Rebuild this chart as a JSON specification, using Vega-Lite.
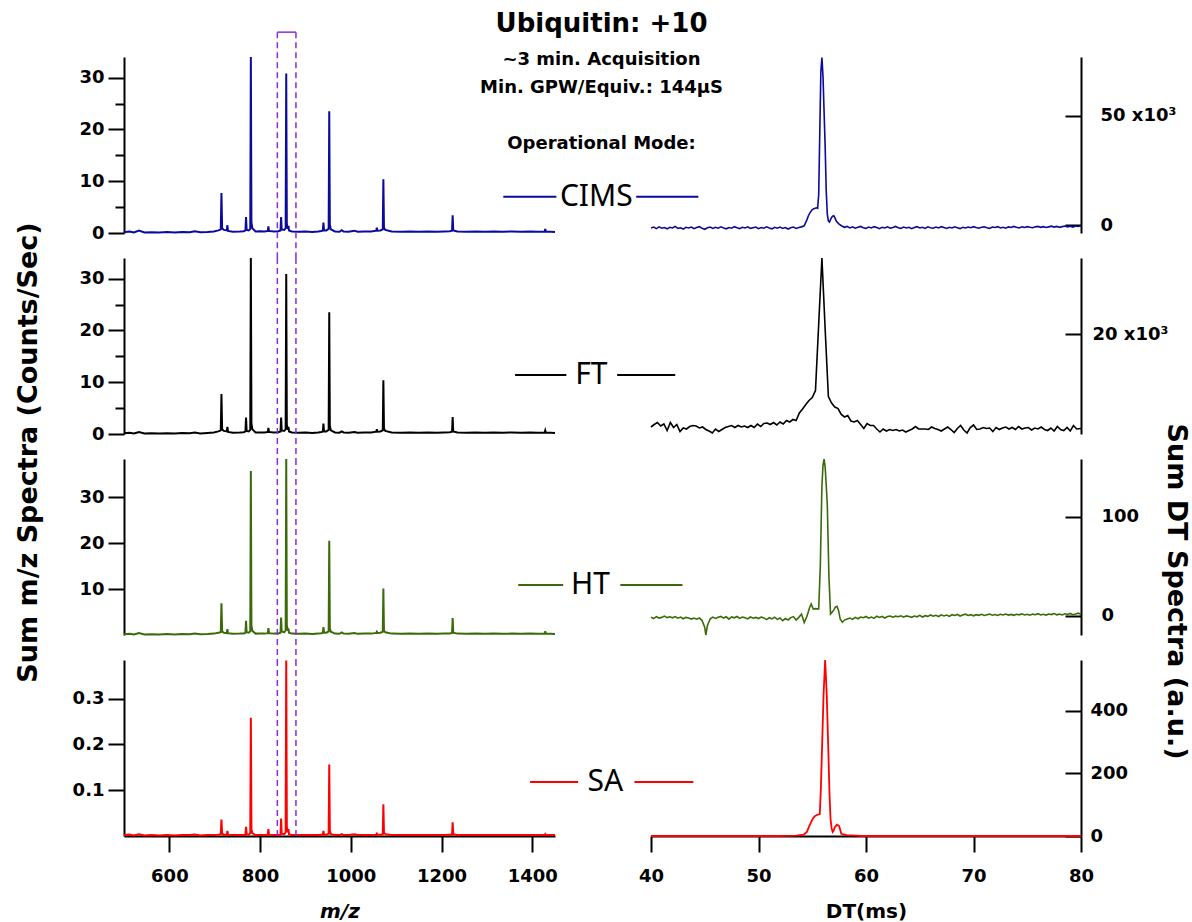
{
"$schema":"https://vega.github.io/schema/vega-lite/v6.json",
"padding":{"left":13,"top":11,"right":5,"bottom":5},
"bounds":"flush",
"columns":2,
"spacing":{"row":25,"column":96},
"title":{"text":"Ubiquitin: +10","subtitle":["~3 min. Acquisition","Min. GPW/Equiv.: 144μS","\u2800","Operational Mode:"],"anchor":"middle","fontSize":26,"font":"DejaVu Sans","fontWeight":"bold","color":"black","subtitleFont":"DejaVu Sans","subtitleFontSize":18,"subtitleFontWeight":"bold","subtitleColor":"black","subtitlePadding":14,"subtitleLineHeight":28,"offset":-122},
"config":{
 "view":{"stroke":null},
 "font":"DejaVu Sans",
 "axis":{"domainColor":"black","domainWidth":2,"tickColor":"black","tickWidth":2,"labelFont":"DejaVu Sans","labelFontWeight":"bold","labelFontSize":18,"labelColor":"black","grid":false,"labelFlush":false,"labelOverlap":false,"titleFont":"DejaVu Sans","titleFontWeight":"bold","titleColor":"black","titleFontSize":27}
},
"datasets":{
 "win":[{"lo":838,"hi":879}],
 "lgC":[{"mode":"CIMS"}],"lgF":[{"mode":"FT"}],"lgH":[{"mode":"HT"}],"lgS":[{"mode":"SA"}],
 "ms":[
{"mz":500,"c":0.15,"f":0.15,"h":0.15,"s":0.002},{"mz":512,"c":0.3,"f":0.25,"h":0.25,"s":0.003},{"mz":522,"c":0.1,"f":0.1,"h":0.1,"s":0.001},{"mz":533,"c":0.45,"f":0.4,"h":0.45,"s":0.004},{"mz":545,"c":0.1,"f":0.1,"h":0.1,"s":0.001},{"mz":560,"c":0.15,"f":0.15,"h":0.15,"s":0.002},{"mz":578,"c":0.1,"f":0.1,"h":0.1,"s":0.001},{"mz":595,"c":0.2,"f":0.15,"h":0.2,"s":0.002},{"mz":612,"c":0.1,"f":0.1,"h":0.1,"s":0.001},{"mz":628,"c":0.2,"f":0.2,"h":0.2,"s":0.002},{"mz":645,"c":0.15,"f":0.15,"h":0.15,"s":0.002},{"mz":656,"c":0.35,"f":0.3,"h":0.35,"s":0.003},{"mz":668,"c":0.15,"f":0.1,"h":0.15,"s":0.001},{"mz":684,"c":0.2,"f":0.2,"h":0.2,"s":0.002},{"mz":698,"c":0.3,"f":0.3,"h":0.3,"s":0.002},{"mz":708,"c":0.5,"f":0.5,"h":0.5,"s":0.003},
{"mz":713.3,"c":0.7,"f":0.7,"h":0.6,"s":0.004},{"mz":714.8,"c":7.7,"f":7.7,"h":6.9,"s":0.036},{"mz":716.3,"c":0.9,"f":0.9,"h":0.8,"s":0.005},{"mz":720,"c":0.6,"f":0.6,"h":0.5,"s":0.003},
{"mz":726.6,"c":0.5,"f":0.5,"h":0.4,"s":0.003},{"mz":727.9,"c":1.5,"f":1.4,"h":1.3,"s":0.011},{"mz":729.2,"c":0.4,"f":0.4,"h":0.4,"s":0.003},{"mz":740,"c":0.25,"f":0.25,"h":0.25,"s":0.002},{"mz":755,"c":0.3,"f":0.3,"h":0.3,"s":0.002},{"mz":764,"c":0.35,"f":0.35,"h":0.35,"s":0.002},
{"mz":767.7,"c":0.5,"f":0.5,"h":0.5,"s":0.003},{"mz":769,"c":3.1,"f":3.2,"h":3.1,"s":0.02},{"mz":770.3,"c":0.6,"f":0.6,"h":0.6,"s":0.004},{"mz":775,"c":0.5,"f":0.5,"h":0.5,"s":0.003},
{"mz":778.3,"c":0.8,"f":0.8,"h":0.8,"s":0.006},{"mz":779.6,"c":34,"f":34,"h":35.7,"s":0.258},{"mz":780.9,"c":2,"f":2,"h":2.1,"s":0.015},{"mz":783,"c":0.9,"f":0.9,"h":0.9,"s":0.006},{"mz":790,"c":0.3,"f":0.3,"h":0.3,"s":0.002},{"mz":800,"c":0.35,"f":0.3,"h":0.35,"s":0.002},{"mz":810,"c":0.3,"f":0.3,"h":0.3,"s":0.002},
{"mz":817,"c":0.4,"f":0.4,"h":0.4,"s":0.003},{"mz":818.3,"c":1.3,"f":1.2,"h":1.5,"s":0.015},{"mz":819.6,"c":0.4,"f":0.4,"h":0.4,"s":0.003},{"mz":830,"c":0.3,"f":0.3,"h":0.3,"s":0.002},{"mz":840,"c":0.35,"f":0.35,"h":0.35,"s":0.002},
{"mz":845,"c":0.5,"f":0.5,"h":0.5,"s":0.003},{"mz":846.3,"c":3.1,"f":3.2,"h":3.8,"s":0.038},{"mz":847.6,"c":0.7,"f":0.7,"h":0.8,"s":0.005},{"mz":853,"c":0.6,"f":0.6,"h":0.6,"s":0.004},
{"mz":856.3,"c":0.9,"f":0.9,"h":1,"s":0.008},{"mz":857.6,"c":30.8,"f":30.9,"h":38.3,"s":0.383},{"mz":858.9,"c":1.8,"f":1.8,"h":2.2,"s":0.02},{"mz":861.3,"c":0.8,"f":0.8,"h":0.9,"s":0.008},{"mz":862.5,"c":1.4,"f":1.4,"h":1.4,"s":0.015},{"mz":863.7,"c":0.5,"f":0.5,"h":0.5,"s":0.004},
{"mz":870,"c":0.3,"f":0.3,"h":0.3,"s":0.002},{"mz":885,"c":0.25,"f":0.25,"h":0.25,"s":0.002},{"mz":900,"c":0.3,"f":0.3,"h":0.3,"s":0.002},{"mz":915,"c":0.2,"f":0.2,"h":0.2,"s":0.002},{"mz":928,"c":0.3,"f":0.3,"h":0.3,"s":0.002},{"mz":935,"c":0.4,"f":0.4,"h":0.4,"s":0.003},
{"mz":938.3,"c":0.5,"f":0.5,"h":0.5,"s":0.003},{"mz":939.6,"c":2,"f":2,"h":1.7,"s":0.011},{"mz":940.9,"c":0.5,"f":0.5,"h":0.5,"s":0.003},{"mz":946,"c":0.5,"f":0.5,"h":0.5,"s":0.003},
{"mz":951.1,"c":0.8,"f":0.8,"h":0.8,"s":0.005},{"mz":952.4,"c":23.5,"f":23.5,"h":20.5,"s":0.156},{"mz":953.7,"c":1.6,"f":1.6,"h":1.4,"s":0.012},{"mz":956,"c":0.7,"f":0.7,"h":0.7,"s":0.004},
{"mz":965,"c":0.3,"f":0.3,"h":0.3,"s":0.002},{"mz":975,"c":0.25,"f":0.25,"h":0.25,"s":0.002},{"mz":980,"c":0.55,"f":0.5,"h":0.55,"s":0.004},{"mz":984,"c":0.3,"f":0.3,"h":0.3,"s":0.002},{"mz":995,"c":0.25,"f":0.25,"h":0.25,"s":0.002},{"mz":1008,"c":0.45,"f":0.4,"h":0.45,"s":0.004},{"mz":1015,"c":0.25,"f":0.25,"h":0.25,"s":0.002},{"mz":1030,"c":0.3,"f":0.3,"h":0.3,"s":0.002},{"mz":1045,"c":0.3,"f":0.3,"h":0.3,"s":0.002},
{"mz":1056,"c":0.45,"f":0.45,"h":0.45,"s":0.003},{"mz":1057.3,"c":1,"f":0.9,"h":0.7,"s":0.005},{"mz":1058.6,"c":0.45,"f":0.45,"h":0.45,"s":0.003},{"mz":1065,"c":0.5,"f":0.5,"h":0.5,"s":0.003},
{"mz":1070.4,"c":0.7,"f":0.7,"h":0.7,"s":0.004},{"mz":1071.7,"c":10.4,"f":10.4,"h":10.1,"s":0.069},{"mz":1073,"c":1,"f":1,"h":1,"s":0.007},{"mz":1076,"c":0.6,"f":0.6,"h":0.6,"s":0.004},
{"mz":1090,"c":0.3,"f":0.3,"h":0.3,"s":0.002},{"mz":1110,"c":0.25,"f":0.25,"h":0.25,"s":0.002},{"mz":1130,"c":0.3,"f":0.3,"h":0.3,"s":0.002},{"mz":1150,"c":0.25,"f":0.25,"h":0.25,"s":0.002},{"mz":1170,"c":0.3,"f":0.3,"h":0.3,"s":0.002},{"mz":1190,"c":0.25,"f":0.25,"h":0.25,"s":0.002},{"mz":1205,"c":0.3,"f":0.3,"h":0.3,"s":0.002},{"mz":1218,"c":0.35,"f":0.35,"h":0.35,"s":0.003},
{"mz":1223.1,"c":0.45,"f":0.45,"h":0.45,"s":0.003},{"mz":1224.4,"c":3.4,"f":3.3,"h":3.7,"s":0.03},{"mz":1225.7,"c":0.5,"f":0.5,"h":0.5,"s":0.004},
{"mz":1235,"c":0.3,"f":0.3,"h":0.3,"s":0.002},{"mz":1255,"c":0.25,"f":0.25,"h":0.25,"s":0.002},{"mz":1275,"c":0.3,"f":0.3,"h":0.3,"s":0.002},{"mz":1295,"c":0.25,"f":0.25,"h":0.25,"s":0.002},{"mz":1315,"c":0.3,"f":0.3,"h":0.3,"s":0.002},{"mz":1335,"c":0.25,"f":0.25,"h":0.25,"s":0.002},{"mz":1355,"c":0.3,"f":0.3,"h":0.3,"s":0.002},{"mz":1375,"c":0.25,"f":0.25,"h":0.25,"s":0.002},{"mz":1395,"c":0.3,"f":0.3,"h":0.3,"s":0.002},{"mz":1412,"c":0.25,"f":0.25,"h":0.25,"s":0.002},
{"mz":1427.2,"c":0.3,"f":0.3,"h":0.3,"s":0.002},{"mz":1428.5,"c":0.8,"f":0.7,"h":0.8,"s":0.004},{"mz":1429.8,"c":0.3,"f":0.3,"h":0.3,"s":0.002},{"mz":1440,"c":0.25,"f":0.25,"h":0.25,"s":0.002},{"mz":1450,"c":0.2,"f":0.2,"h":0.2,"s":0.002}
 ],
 "dtC":[
{"t":40,"v":-1200},{"t":40.25,"v":-800},{"t":40.5,"v":-1500},{"t":40.75,"v":-700},{"t":41,"v":-1300},{"t":41.25,"v":-1000},{"t":41.5,"v":-1600},{"t":41.75,"v":-900},{"t":42,"v":-1200},{"t":42.25,"v":-500},{"t":42.5,"v":-1400},{"t":42.75,"v":-1100},{"t":43,"v":-1700},{"t":43.25,"v":-900},{"t":43.5,"v":-1200},{"t":43.75,"v":-800},{"t":44,"v":-1500},{"t":44.25,"v":-1000},{"t":44.5,"v":-600},{"t":44.75,"v":-1300},{"t":45,"v":-1800},{"t":45.25,"v":-1100},{"t":45.5,"v":-800},{"t":45.75,"v":-1400},{"t":46,"v":-900},{"t":46.25,"v":-1300},{"t":46.5,"v":-700},{"t":46.75,"v":-1200},{"t":47,"v":-1600},{"t":47.25,"v":-1000},{"t":47.5,"v":-1300},{"t":47.75,"v":-600},{"t":48,"v":-1100},{"t":48.25,"v":-1500},{"t":48.5,"v":-900},{"t":48.75,"v":-1200},{"t":49,"v":-700},{"t":49.25,"v":-1400},{"t":49.5,"v":-1100},{"t":49.75,"v":-800},{"t":50,"v":-1500},{"t":50.25,"v":-1000},{"t":50.5,"v":-1300},{"t":50.75,"v":-700},{"t":51,"v":-1200},{"t":51.25,"v":-1600},{"t":51.5,"v":-900},{"t":51.75,"v":-1300},{"t":52,"v":-800},{"t":52.25,"v":-1400},{"t":52.5,"v":-1000},{"t":52.75,"v":-1700},{"t":53,"v":-1100},{"t":53.25,"v":-800},{"t":53.5,"v":-1400},{"t":53.75,"v":-1000},{"t":54,"v":-700},{"t":54.25,"v":-200},
{"t":54.5,"v":2500},{"t":54.65,"v":4500},{"t":54.8,"v":5800},{"t":55,"v":7200},{"t":55.2,"v":7700},{"t":55.4,"v":8000},{"t":55.5,"v":7800},{"t":55.6,"v":14000},{"t":55.7,"v":42000},{"t":55.8,"v":70000},{"t":55.9,"v":76500},{"t":56,"v":68000},{"t":56.1,"v":52000},{"t":56.2,"v":36000},{"t":56.3,"v":16000},{"t":56.4,"v":5000},{"t":56.5,"v":2000},{"t":56.6,"v":1500},{"t":56.7,"v":2600},{"t":56.8,"v":3600},{"t":56.9,"v":4200},{"t":57,"v":4400},{"t":57.1,"v":3500},{"t":57.25,"v":1800},{"t":57.5,"v":500},{"t":57.75,"v":-300},{"t":58,"v":-900},{"t":58.25,"v":-500},
{"t":58.5,"v":-1200},{"t":58.75,"v":-700},{"t":59,"v":-1300},{"t":59.25,"v":-900},{"t":59.5,"v":-500},{"t":59.75,"v":-1100},{"t":60,"v":-1400},{"t":60.25,"v":-800},{"t":60.5,"v":-1200},{"t":60.75,"v":-600},{"t":61,"v":-1000},{"t":61.25,"v":-1500},{"t":61.5,"v":-900},{"t":61.75,"v":-1200},{"t":62,"v":-700},{"t":62.25,"v":-1300},{"t":62.5,"v":-1000},{"t":62.75,"v":-500},{"t":63,"v":-1100},{"t":63.25,"v":-1400},{"t":63.5,"v":-800},{"t":63.75,"v":-1200},{"t":64,"v":-900},{"t":64.25,"v":-1500},{"t":64.5,"v":-1000},{"t":64.75,"v":-600},{"t":65,"v":-1200},{"t":65.25,"v":-900},{"t":65.5,"v":-1400},{"t":65.75,"v":-700},{"t":66,"v":-1100},{"t":66.25,"v":-1300},{"t":66.5,"v":-800},{"t":66.75,"v":-1200},{"t":67,"v":-600},{"t":67.25,"v":-1000},{"t":67.5,"v":-1400},{"t":67.75,"v":-900},{"t":68,"v":-1200},{"t":68.25,"v":-700},{"t":68.5,"v":-1100},{"t":68.75,"v":-1500},{"t":69,"v":-900},{"t":69.25,"v":-1200},{"t":69.5,"v":-800},{"t":69.75,"v":-1100},{"t":70,"v":-600},{"t":70.25,"v":-1000},{"t":70.5,"v":-1300},{"t":70.75,"v":-900},{"t":71,"v":-700},{"t":71.25,"v":-1100},{"t":71.5,"v":-1400},{"t":71.75,"v":-800},{"t":72,"v":-1000},{"t":72.25,"v":-600},{"t":72.5,"v":-1200},{"t":72.75,"v":-900},{"t":73,"v":-1300},{"t":73.25,"v":-700},{"t":73.5,"v":-1000},{"t":73.75,"v":-500},{"t":74,"v":-900},{"t":74.25,"v":-1200},{"t":74.5,"v":-700},{"t":74.75,"v":-1000},{"t":75,"v":-600},{"t":75.25,"v":-900},{"t":75.5,"v":-1100},{"t":75.75,"v":-700},{"t":76,"v":-500},{"t":76.25,"v":-900},{"t":76.5,"v":-600},{"t":76.75,"v":-1000},{"t":77,"v":-700},{"t":77.25,"v":-400},{"t":77.5,"v":-800},{"t":77.75,"v":-500},{"t":78,"v":-900},{"t":78.25,"v":-600},{"t":78.5,"v":-300},{"t":78.75,"v":-700},{"t":79,"v":-400},{"t":79.25,"v":-800},{"t":79.5,"v":-300},{"t":79.75,"v":-500},{"t":80,"v":-200}
 ],
 "dtF":[
{"t":40,"v":1400},{"t":40.3,"v":1900},{"t":40.6,"v":2300},{"t":40.9,"v":1600},{"t":41.2,"v":2000},{"t":41.5,"v":700},{"t":41.8,"v":2300},{"t":42.1,"v":1300},{"t":42.4,"v":1900},{"t":42.7,"v":500},{"t":43,"v":1200},{"t":43.3,"v":1000},{"t":43.6,"v":1500},{"t":43.9,"v":1700},{"t":44.2,"v":1600},{"t":44.5,"v":1200},{"t":44.8,"v":1400},{"t":45.1,"v":900},{"t":45.4,"v":600},{"t":45.7,"v":200},{"t":46,"v":1000},{"t":46.3,"v":500},{"t":46.6,"v":900},{"t":46.9,"v":1300},{"t":47.2,"v":1500},{"t":47.5,"v":1700},{"t":47.8,"v":1300},{"t":48.1,"v":1700},{"t":48.4,"v":1400},{"t":48.7,"v":1600},{"t":49,"v":1300},{"t":49.3,"v":1700},{"t":49.6,"v":1300},{"t":49.9,"v":2000},{"t":50.2,"v":1500},{"t":50.5,"v":2100},{"t":50.8,"v":2200},{"t":51.1,"v":1900},{"t":51.4,"v":2300},{"t":51.7,"v":1800},{"t":52,"v":2400},{"t":52.3,"v":2000},{"t":52.6,"v":2700},{"t":52.9,"v":2400},{"t":53.2,"v":2900},{"t":53.5,"v":2700},{"t":53.8,"v":4200},{"t":54.1,"v":5000},{"t":54.4,"v":5900},{"t":54.7,"v":6700},{"t":55,"v":7300},{"t":55.3,"v":8700},{"t":55.6,"v":22000},{"t":55.9,"v":35200},{"t":56.2,"v":21000},{"t":56.5,"v":7500},{"t":56.8,"v":6200},{"t":57.1,"v":5400},{"t":57.4,"v":5100},{"t":57.7,"v":3900},{"t":58,"v":3400},{"t":58.3,"v":3700},{"t":58.6,"v":2600},{"t":58.9,"v":2400},{"t":59.2,"v":2700},{"t":59.5,"v":1900},{"t":59.8,"v":1100},{"t":60.1,"v":2100},{"t":60.4,"v":1700},{"t":60.7,"v":1700},{"t":61,"v":1000},{"t":61.3,"v":400},{"t":61.6,"v":1000},{"t":61.9,"v":600},{"t":62.2,"v":900},{"t":62.5,"v":700},{"t":62.8,"v":900},{"t":63.1,"v":600},{"t":63.4,"v":800},{"t":63.7,"v":400},{"t":64,"v":700},{"t":64.3,"v":1000},{"t":64.6,"v":1500},{"t":64.9,"v":1000},{"t":65.2,"v":1000},{"t":65.5,"v":1000},{"t":65.8,"v":900},{"t":66.1,"v":1400},{"t":66.4,"v":1100},{"t":66.7,"v":900},{"t":67,"v":600},{"t":67.3,"v":1000},{"t":67.6,"v":1400},{"t":67.9,"v":900},{"t":68.2,"v":300},{"t":68.5,"v":1100},{"t":68.8,"v":1700},{"t":69.1,"v":800},{"t":69.4,"v":200},{"t":69.7,"v":1300},{"t":70,"v":1800},{"t":70.3,"v":900},{"t":70.6,"v":1000},{"t":70.9,"v":1300},{"t":71.2,"v":1100},{"t":71.5,"v":1200},{"t":71.8,"v":500},{"t":72.1,"v":1300},{"t":72.4,"v":900},{"t":72.7,"v":1200},{"t":73,"v":1400},{"t":73.3,"v":1000},{"t":73.6,"v":1300},{"t":73.9,"v":900},{"t":74.2,"v":1500},{"t":74.5,"v":1000},{"t":74.8,"v":1200},{"t":75.1,"v":1300},{"t":75.4,"v":800},{"t":75.7,"v":1200},{"t":76,"v":1000},{"t":76.3,"v":1400},{"t":76.6,"v":900},{"t":76.9,"v":700},{"t":77.2,"v":1200},{"t":77.5,"v":600},{"t":77.8,"v":1500},{"t":78.1,"v":900},{"t":78.4,"v":700},{"t":78.7,"v":1300},{"t":79,"v":600},{"t":79.3,"v":1700},{"t":79.6,"v":1000},{"t":80,"v":1100}
 ],
 "dtH":[
{"t":40,"v":-1.5},{"t":40.25,"v":-3},{"t":40.5,"v":-1},{"t":40.75,"v":-2.5},{"t":41,"v":-1.8},{"t":41.25,"v":-0.5},{"t":41.5,"v":-2},{"t":41.75,"v":-1.2},{"t":42,"v":-2.2},{"t":42.25,"v":-1},{"t":42.5,"v":-2.6},{"t":42.75,"v":-1.5},{"t":43,"v":-3.2},{"t":43.25,"v":-1.8},{"t":43.5,"v":-2.4},{"t":43.75,"v":-3.5},{"t":44,"v":-2.5},{"t":44.25,"v":-3.6},{"t":44.5,"v":-2.4},{"t":44.75,"v":-5},{"t":45,"v":-12},{"t":45.1,"v":-19.6},{"t":45.25,"v":-10},{"t":45.5,"v":-3.5},{"t":45.75,"v":-1.5},{"t":46,"v":-2.8},{"t":46.25,"v":-1.6},{"t":46.5,"v":-0.8},{"t":46.75,"v":-2.5},{"t":47,"v":-1.2},{"t":47.25,"v":-3.6},{"t":47.5,"v":-1.4},{"t":47.75,"v":-2.2},{"t":48,"v":-0.9},{"t":48.25,"v":-2.8},{"t":48.5,"v":-1.5},{"t":48.75,"v":-2.1},{"t":49,"v":-3.3},{"t":49.25,"v":-1.4},{"t":49.5,"v":-2.6},{"t":49.75,"v":-1.8},{"t":50,"v":-3},{"t":50.25,"v":-1.5},{"t":50.5,"v":-2.3},{"t":50.75,"v":-4.1},{"t":51,"v":-2.2},{"t":51.25,"v":-3.4},{"t":51.5,"v":-1.6},{"t":51.75,"v":-3.8},{"t":52,"v":-2.4},{"t":52.25,"v":-5.2},{"t":52.5,"v":-3},{"t":52.75,"v":-4.4},{"t":53,"v":-2},{"t":53.25,"v":-1},{"t":53.5,"v":-4.4},{"t":53.75,"v":-1.8},{"t":54,"v":1.5},{"t":54.25,"v":-7},{"t":54.5,"v":-1},{"t":54.75,"v":8},{"t":54.9,"v":11.7},{"t":55.1,"v":6.5},{"t":55.3,"v":7},{"t":55.6,"v":6.7},{"t":55.75,"v":50},{"t":55.9,"v":131},{"t":56,"v":152},{"t":56.1,"v":158},{"t":56.2,"v":150},{"t":56.3,"v":132},{"t":56.4,"v":112},{"t":56.55,"v":40},{"t":56.7,"v":1.6},{"t":56.85,"v":3.5},{"t":57,"v":5.5},{"t":57.15,"v":8.5},{"t":57.3,"v":9.4},{"t":57.45,"v":5},{"t":57.6,"v":-3.5},{"t":57.8,"v":-6.8},{"t":58,"v":-4.5},{"t":58.25,"v":-3.4},{"t":58.5,"v":-2.5},{"t":58.75,"v":-3.8},{"t":59,"v":-1.8},{"t":59.25,"v":-3.2},{"t":59.5,"v":-1.5},{"t":59.75,"v":-2.2},{"t":60,"v":-0.9},{"t":60.25,"v":-2.6},{"t":60.5,"v":-1.5},{"t":60.75,"v":-2.8},{"t":61,"v":-0.6},{"t":61.25,"v":-1.8},{"t":61.5,"v":-0.8},{"t":61.75,"v":-2.4},{"t":62,"v":-1},{"t":62.25,"v":-0.4},{"t":62.5,"v":-1.6},{"t":62.75,"v":-0.6},{"t":63,"v":-1.1},{"t":63.25,"v":-0.2},{"t":63.5,"v":-1.6},{"t":63.75,"v":-0.3},{"t":64,"v":-1},{"t":64.25,"v":-1.7},{"t":64.5,"v":-0.5},{"t":64.75,"v":-1.2},{"t":65,"v":0.2},{"t":65.25,"v":-1.4},{"t":65.5,"v":-0.1},{"t":65.75,"v":-0.8},{"t":66,"v":0.6},{"t":66.25,"v":-0.6},{"t":66.5,"v":0.3},{"t":66.75,"v":-0.9},{"t":67,"v":0.8},{"t":67.25,"v":-0.3},{"t":67.5,"v":0.5},{"t":67.75,"v":-0.8},{"t":68,"v":0.9},{"t":68.25,"v":0.1},{"t":68.5,"v":1.2},{"t":68.75,"v":-0.4},{"t":69,"v":0.6},{"t":69.25,"v":1.4},{"t":69.5,"v":0.2},{"t":69.75,"v":1},{"t":70,"v":-0.2},{"t":70.25,"v":0.9},{"t":70.5,"v":0.3},{"t":70.75,"v":1.3},{"t":71,"v":0.1},{"t":71.25,"v":0.8},{"t":71.5,"v":1.5},{"t":71.75,"v":0.4},{"t":72,"v":1.1},{"t":72.25,"v":0.2},{"t":72.5,"v":1.3},{"t":72.75,"v":0.6},{"t":73,"v":1.6},{"t":73.25,"v":0.5},{"t":73.5,"v":1.2},{"t":73.75,"v":0.3},{"t":74,"v":1.4},{"t":74.25,"v":0.8},{"t":74.5,"v":1.8},{"t":74.75,"v":0.6},{"t":75,"v":1.3},{"t":75.25,"v":0.4},{"t":75.5,"v":1.5},{"t":75.75,"v":0.9},{"t":76,"v":1.9},{"t":76.25,"v":0.7},{"t":76.5,"v":1.4},{"t":76.75,"v":0.5},{"t":77,"v":1.6},{"t":77.25,"v":1},{"t":77.5,"v":2},{"t":77.75,"v":0.8},{"t":78,"v":1.5},{"t":78.25,"v":0.6},{"t":78.5,"v":1.8},{"t":78.75,"v":1.2},{"t":79,"v":2.2},{"t":79.25,"v":0.9},{"t":79.5,"v":1.6},{"t":79.75,"v":2.5},{"t":80,"v":1.2}
 ],
 "dtS":[
{"t":40,"v":0},{"t":52,"v":0},{"t":52.6,"v":0.5},{"t":53.5,"v":1.5},{"t":54.2,"v":4},{"t":54.5,"v":13},{"t":54.7,"v":30},{"t":54.9,"v":45},{"t":55.1,"v":58},{"t":55.3,"v":65},{"t":55.5,"v":68},{"t":55.7,"v":70},{"t":55.8,"v":150},{"t":55.9,"v":268},{"t":56.05,"v":450},{"t":56.2,"v":563},{"t":56.35,"v":450},{"t":56.5,"v":268},{"t":56.6,"v":140},{"t":56.7,"v":55},{"t":56.8,"v":25},{"t":56.9,"v":13},{"t":57,"v":18},{"t":57.1,"v":28},{"t":57.3,"v":36},{"t":57.5,"v":32},{"t":57.6,"v":20},{"t":57.7,"v":7},{"t":58.2,"v":3},{"t":59.1,"v":1},{"t":59.6,"v":0},{"t":80,"v":0}
 ]
},
"concat":[
  {"width":431,"height":176,"resolve":{"axis":{"x":"independent","y":"independent"}},"layer":[
   {"data":{"name":"ms"},"mark":{"type":"line","color":"#0a0a9c","strokeWidth":2},
    "encoding":{"x":{"field":"mz","type":"quantitative","scale":{"domain":[500,1450],"nice":false,"zero":false},"axis":null},
     "y":{"field":"c","type":"quantitative","scale":{"domain":[0,34],"nice":false,"zero":false},
      "axis":{"title":null,"values":[0,5,10,15,20,25,30],"labelExpr":"datum.value % 10 == 0 ? datum.label : ''","tickSize":{"condition":{"test":"datum.value % 10 != 0","value":9},"value":16},"labelPadding":4}}}},
   {"data":{"name":"win"},"mark":{"type":"rule","color":"#8a2be2","strokeWidth":1.5,"strokeDash":[6,4]},
    "encoding":{"x":{"field":"lo","type":"quantitative","axis":null},"y":{"datum":38.8,"axis":null},"y2":{"datum":-4.83}}},
   {"data":{"name":"win"},"mark":{"type":"rule","color":"#8a2be2","strokeWidth":1.5,"strokeDash":[6,4]},
    "encoding":{"x":{"field":"hi","type":"quantitative","axis":null},"y":{"datum":38.8,"axis":null},"y2":{"datum":-4.83}}},
   {"data":{"name":"win"},"mark":{"type":"rule","color":"#8a2be2","strokeWidth":1.5},
    "encoding":{"x":{"field":"lo","type":"quantitative","axis":null},"x2":{"field":"hi"},"y":{"datum":38.8,"axis":null}}},
   {"data":{"name":"lgC"},"mark":{"type":"rule","color":"#0a0a9c","strokeWidth":2},"encoding":{"x":{"datum":1336,"axis":null},"x2":{"datum":1453},"y":{"datum":7,"axis":null}}},
   {"data":{"name":"lgC"},"mark":{"type":"rule","color":"#0a0a9c","strokeWidth":2},"encoding":{"x":{"datum":1629,"axis":null},"x2":{"datum":1766},"y":{"datum":7,"axis":null}}},
   {"data":{"name":"lgC"},"mark":{"type":"text","font":"Noto Sans","fontSize":30,"color":"black","baseline":"middle","align":"center"},"encoding":{"text":{"field":"mode"},"x":{"datum":1541,"axis":null},"y":{"datum":7,"axis":null}}}
  ]},
  {"width":430,"height":176,"data":{"name":"dtC"},"mark":{"type":"line","color":"#0a0a9c","strokeWidth":1.6},
   "encoding":{"x":{"field":"t","type":"quantitative","scale":{"domain":[40,80],"nice":false,"zero":false},"axis":null},
    "y":{"field":"v","type":"quantitative","scale":{"domain":[-3500,76800],"nice":false,"zero":false},
     "axis":{"orient":"right","title":null,"values":[0,50000],"labelExpr":"datum.value == 0 ? '0' : format(datum.value/1000,'d') + ' x10³'","tickSize":-16,"labelPadding":35}}}},
  {"width":431,"height":176,"resolve":{"axis":{"x":"independent","y":"independent"}},"layer":[
   {"data":{"name":"ms"},"mark":{"type":"line","color":"black","strokeWidth":2},
    "encoding":{"x":{"field":"mz","type":"quantitative","scale":{"domain":[500,1450],"nice":false,"zero":false},"axis":null},
     "y":{"field":"f","type":"quantitative","scale":{"domain":[0,34],"nice":false,"zero":false},
      "axis":{"title":"Sum m/z Spectra (Counts/Sec)","titleX":-96,"titleY":194,"titleBaseline":"middle","titleAlign":"center","titleAngle":-90,"values":[0,5,10,15,20,25,30],"labelExpr":"datum.value % 10 == 0 ? datum.label : ''","tickSize":{"condition":{"test":"datum.value % 10 != 0","value":9},"value":16},"labelPadding":4}}}},
   {"data":{"name":"win"},"mark":{"type":"rule","color":"#8a2be2","strokeWidth":1.5,"strokeDash":[6,4]},
    "encoding":{"x":{"field":"lo","type":"quantitative","axis":null},"y":{"datum":34,"axis":null},"y2":{"datum":-4.83}}},
   {"data":{"name":"win"},"mark":{"type":"rule","color":"#8a2be2","strokeWidth":1.5,"strokeDash":[6,4]},
    "encoding":{"x":{"field":"hi","type":"quantitative","axis":null},"y":{"datum":34,"axis":null},"y2":{"datum":-4.83}}},
   {"data":{"name":"lgF"},"mark":{"type":"rule","color":"black","strokeWidth":2},"encoding":{"x":{"datum":1362,"axis":null},"x2":{"datum":1475},"y":{"datum":11.4,"axis":null}}},
   {"data":{"name":"lgF"},"mark":{"type":"rule","color":"black","strokeWidth":2},"encoding":{"x":{"datum":1587,"axis":null},"x2":{"datum":1715},"y":{"datum":11.4,"axis":null}}},
   {"data":{"name":"lgF"},"mark":{"type":"text","font":"Noto Sans","fontSize":30,"color":"black","baseline":"middle","align":"center"},"encoding":{"text":{"field":"mode"},"x":{"datum":1530,"axis":null},"y":{"datum":11.4,"axis":null}}}
  ]},
  {"width":430,"height":176,"data":{"name":"dtF"},"mark":{"type":"line","color":"black","strokeWidth":1.6},
   "encoding":{"x":{"field":"t","type":"quantitative","scale":{"domain":[40,80],"nice":false,"zero":false},"axis":null},
    "y":{"field":"v","type":"quantitative","scale":{"domain":[0,35200],"nice":false,"zero":false},
     "axis":{"orient":"right","title":null,"values":[20000],"labelExpr":"format(datum.value/1000,'d') + ' x10³'","tickSize":-16,"labelPadding":27}}}},
  {"width":431,"height":176,"resolve":{"axis":{"x":"independent","y":"independent"}},"layer":[
   {"data":{"name":"ms"},"mark":{"type":"line","color":"#3b6b08","strokeWidth":2},
    "encoding":{"x":{"field":"mz","type":"quantitative","scale":{"domain":[500,1450],"nice":false,"zero":false},"axis":null},
     "y":{"field":"h","type":"quantitative","scale":{"domain":[0,38.3],"nice":false,"zero":false},
      "axis":{"title":null,"values":[10,20,30],"tickSize":16,"labelPadding":4}}}},
   {"data":{"name":"win"},"mark":{"type":"rule","color":"#8a2be2","strokeWidth":1.5,"strokeDash":[6,4]},
    "encoding":{"x":{"field":"lo","type":"quantitative","axis":null},"y":{"datum":38.3,"axis":null},"y2":{"datum":-5.44}}},
   {"data":{"name":"win"},"mark":{"type":"rule","color":"#8a2be2","strokeWidth":1.5,"strokeDash":[6,4]},
    "encoding":{"x":{"field":"hi","type":"quantitative","axis":null},"y":{"datum":38.3,"axis":null},"y2":{"datum":-5.44}}},
   {"data":{"name":"lgH"},"mark":{"type":"rule","color":"#3b6b08","strokeWidth":2},"encoding":{"x":{"datum":1369,"axis":null},"x2":{"datum":1468},"y":{"datum":10.9,"axis":null}}},
   {"data":{"name":"lgH"},"mark":{"type":"rule","color":"#3b6b08","strokeWidth":2},"encoding":{"x":{"datum":1594,"axis":null},"x2":{"datum":1731},"y":{"datum":10.9,"axis":null}}},
   {"data":{"name":"lgH"},"mark":{"type":"text","font":"Noto Sans","fontSize":30,"color":"black","baseline":"middle","align":"center"},"encoding":{"text":{"field":"mode"},"x":{"datum":1528,"axis":null},"y":{"datum":10.9,"axis":null}}}
  ]},
  {"width":430,"height":176,"data":{"name":"dtH"},"mark":{"type":"line","color":"#3b6b08","strokeWidth":1.6},
   "encoding":{"x":{"field":"t","type":"quantitative","scale":{"domain":[40,80],"nice":false,"zero":false},"axis":null},
    "y":{"field":"v","type":"quantitative","scale":{"domain":[-19.6,158.2],"nice":false,"zero":false},
     "axis":{"orient":"right","title":"Sum DT Spectra (a.u.)","titleX":94,"titleY":132,"titleBaseline":"middle","titleAlign":"center","titleAngle":90,"values":[0,100],"tickSize":-16,"labelPadding":36}}}},
  {"width":431,"height":176,"resolve":{"axis":{"x":"independent","y":"independent"}},"layer":[
   {"data":{"name":"ms"},"mark":{"type":"line","color":"#ff0000","strokeWidth":2},
    "encoding":{"x":{"field":"mz","type":"quantitative","scale":{"domain":[500,1450],"nice":false,"zero":false},
      "axis":{"title":"m/z","values":[600,800,1000,1200,1400],"format":"d","tickSize":16,"labelPadding":15,"titleFontStyle":"italic","titleFontSize":20,"titlePadding":16}},
     "y":{"field":"s","type":"quantitative","scale":{"domain":[0,0.384],"nice":false,"zero":false},
      "axis":{"title":null,"values":[0.1,0.2,0.3],"tickSize":16,"labelPadding":4}}}},
   {"data":{"name":"win"},"mark":{"type":"rule","color":"#8a2be2","strokeWidth":1.5,"strokeDash":[6,4]},
    "encoding":{"x":{"field":"lo","type":"quantitative","axis":null},"y":{"datum":0.384,"axis":null},"y2":{"datum":0}}},
   {"data":{"name":"win"},"mark":{"type":"rule","color":"#8a2be2","strokeWidth":1.5,"strokeDash":[6,4]},
    "encoding":{"x":{"field":"hi","type":"quantitative","axis":null},"y":{"datum":0.384,"axis":null},"y2":{"datum":0}}},
   {"data":{"name":"lgS"},"mark":{"type":"rule","color":"#ff0000","strokeWidth":2},"encoding":{"x":{"datum":1395,"axis":null},"x2":{"datum":1501},"y":{"datum":0.118,"axis":null}}},
   {"data":{"name":"lgS"},"mark":{"type":"rule","color":"#ff0000","strokeWidth":2},"encoding":{"x":{"datum":1625,"axis":null},"x2":{"datum":1755},"y":{"datum":0.118,"axis":null}}},
   {"data":{"name":"lgS"},"mark":{"type":"text","font":"Noto Sans","fontSize":30,"color":"black","baseline":"middle","align":"center"},"encoding":{"text":{"field":"mode"},"x":{"datum":1561,"axis":null},"y":{"datum":0.118,"axis":null}}}
  ]},
  {"width":430,"height":176,"data":{"name":"dtS"},"mark":{"type":"line","color":"#ff0000","strokeWidth":1.8},
   "encoding":{"x":{"field":"t","type":"quantitative","scale":{"domain":[40,80],"nice":false,"zero":false},
     "axis":{"title":"DT(ms)","values":[40,50,60,70,80],"tickSize":16,"labelPadding":15,"titleFontSize":20,"titlePadding":16}},
    "y":{"field":"v","type":"quantitative","scale":{"domain":[0,563],"nice":false,"zero":false},
     "axis":{"orient":"right","title":null,"values":[0,200,400],"tickSize":-16,"labelPadding":25}}}}
]
}
